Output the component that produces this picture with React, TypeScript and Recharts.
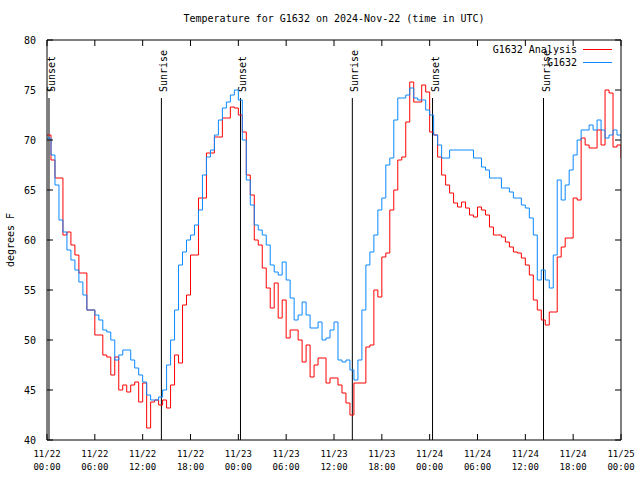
import React from "react";
import { Legend, Line, LineChart, ReferenceLine, XAxis, YAxis } from "recharts";

// half-hourly readings, 11/22 00:00 .. 11/25 00:00 (UTC)
const G1632_ANALYSIS = [
  70.5, 68, 66.2, 66.2, 60.5, 60.8, 59.5, 58.5, 56.7, 56.7, 53, 53,
  50.5, 50.5, 48.5, 48.3, 46.5, 48.3, 45, 45.5, 44.8, 45.5, 45.8, 43.8,
  45.7, 41.2, 43.8, 44, 43.5, 44, 43.2, 45.5, 48.5, 47.7, 53.5, 54.5,
  58.5, 58.5, 64.2, 64.2, 68.7, 68.7, 70.3, 70.3, 72.2, 72.2, 73.3, 73.2,
  72.5, 70.8, 66.5, 64.5, 60, 59.5, 57.2, 55.2, 53.2, 55.7, 52.2, 54,
  50.2, 51, 51, 50, 47.8, 49.5, 46.3, 47.5, 48.2, 48.2, 45.7, 46.2,
  46.2, 45.5, 44.7, 43.7, 42.5, 45.7, 45.7, 45.7, 49.3, 49.5, 55, 54.3,
  58.3, 58.7, 63, 65, 68, 68.3, 71.8, 75.8, 73.8, 73.8, 75.5, 74.8,
  70.8, 70.5, 68.3, 66.5, 65.5, 64.7, 63.7, 63.3, 63.8, 63.2, 62.5, 62.3,
  63.3, 63, 62.5, 61.3, 60.5, 60.5, 60.3, 59.8, 59.3, 58.8, 58.7, 58.2,
  57.5, 56.5, 54, 53, 52, 51.5, 52.8, 52.8, 58.3, 59.3, 60.2, 60.2,
  64.2, 64, 70.2, 69.5, 69.2, 69.2, 71, 69.5, 75, 74.7, 69.3, 69.5,
  68.2,
];

const G1632_OBS = [
  70.2, 68.5, 65.5, 62, 60.8, 59, 58, 57, 55.8, 54.5, 53, 53,
  52.5, 52, 51, 50.8, 50, 48, 48.5, 49, 49, 48, 47.2, 46.5,
  45.8, 44.5, 44, 44, 44.3, 45, 47.5, 50, 53, 57.5, 58.8, 60,
  60.5, 61.5, 63, 66.5, 68.3, 69, 70.5, 72, 73.2, 73.8, 74.5, 75,
  74, 70, 66, 63.5, 61.5, 61, 60.5, 59.5, 57.5, 56.8, 56.5, 57.8,
  56, 54.2, 52, 52.5, 53.8, 52.5, 51.2, 51.2, 51.8, 50, 50.2, 51,
  51.8, 48, 47.8, 48, 47, 46, 48, 53, 57.5, 58.8, 60.5, 63,
  64.2, 67.5, 68.2, 72, 74.2, 74.2, 74.5, 75.2, 74.2, 74, 74, 73,
  72.5, 70.5, 69.5, 68.2, 68.2, 69, 69, 69, 69, 69, 69, 68.2,
  68.2, 67.3, 67, 66.2, 66.2, 66.2, 65.2, 65.2, 64.8, 64.2, 64.2, 63.5,
  63.2, 62.2, 60.5, 56, 57, 56, 55.2, 58.5, 66, 64, 65.5, 67,
  68.5, 70, 71, 71, 71.5, 71, 72, 71, 70.2, 70.5, 71, 70.5,
  70.2,
];

const TICK_HOURS = [0, 6, 12, 18, 24, 30, 36, 42, 48, 54, 60, 66, 72];
const TICK_DATES = ["11/22", "11/22", "11/22", "11/22", "11/23", "11/23", "11/23", "11/23", "11/24", "11/24", "11/24", "11/24", "11/25"];
const TICK_TIMES = ["00:00", "06:00", "12:00", "18:00", "00:00", "06:00", "12:00", "18:00", "00:00", "06:00", "12:00", "18:00", "00:00"];
const Y_TICKS = [40, 45, 50, 55, 60, 65, 70, 75, 80];

const SUN_HOURS = [0.25, 14.35, 24.27, 38.3, 48.36, 62.28];
const SUN_LABELS = ["Sunset", "Sunrise", "Sunset", "Sunrise", "Sunset", "Sunrise"];
const SUN_LINE_TOP = 74.2;

const LEGEND_ORDER = ["G1632 Analysis", "G1632"];

const data = G1632_OBS.map((v, i) => ({
  hour: i * 0.5,
  analysis: G1632_ANALYSIS[i],
  obs: v,
}));

const FONT = "'DejaVu Sans Mono', monospace";
const TICK_LEN = 6;

function BottomTick({ x, y, payload }: any) {
  const i = TICK_HOURS.indexOf(payload.value);
  return (
    <g>
      <line x1={x} y1={y} x2={x} y2={y - TICK_LEN} stroke="#000" />
      <text x={x} y={y + 17} textAnchor="middle" fontFamily={FONT} fontSize={9} fill="#000">
        {TICK_DATES[i]}
      </text>
      <text x={x} y={y + 30} textAnchor="middle" fontFamily={FONT} fontSize={9} fill="#000">
        {TICK_TIMES[i]}
      </text>
    </g>
  );
}

function TopTick({ x, y }: any) {
  return <line x1={x} y1={y} x2={x} y2={y + TICK_LEN} stroke="#000" />;
}

function LeftTick({ x, y, payload }: any) {
  return (
    <g>
      <line x1={x} y1={y} x2={x + TICK_LEN} y2={y} stroke="#000" />
      <text x={x - 11} y={y + 3.5} textAnchor="end" fontFamily={FONT} fontSize={10} fill="#000">
        {payload.value}
      </text>
    </g>
  );
}

function RightTick({ x, y }: any) {
  return <line x1={x} y1={y} x2={x - TICK_LEN} y2={y} stroke="#000" />;
}

function sunLabel(text: string) {
  return (props: any) => {
    const vb = props.viewBox || {};
    const tx = vb.x + 6;
    const ty = vb.y - 6;
    return (
      <text
        x={tx}
        y={ty}
        transform={`rotate(-90 ${tx} ${ty})`}
        fontFamily={FONT}
        fontSize={10}
        fill="#000"
      >
        {text}
      </text>
    );
  };
}

function YLabel(props: any) {
  const vb = props.viewBox || {};
  const cx = 14;
  const cy = vb.y + vb.height / 2;
  return (
    <text
      x={cx}
      y={cy}
      transform={`rotate(-90 ${cx} ${cy})`}
      textAnchor="middle"
      fontFamily={FONT}
      fontSize={10}
      fill="#000"
    >
      degrees F
    </text>
  );
}

function LegendBox({ payload }: any) {
  const items = (payload || [])
    .filter((p: any) => LEGEND_ORDER.includes(p.value))
    .sort((a: any, b: any) => LEGEND_ORDER.indexOf(a.value) - LEGEND_ORDER.indexOf(b.value));
  return (
    <div style={{ fontFamily: FONT, fontSize: 10, lineHeight: "13px" }}>
      {items.map((p: any) => (
        <div key={p.value} style={{ display: "flex", justifyContent: "flex-end", alignItems: "center" }}>
          <span>{p.value}</span>
          <span style={{ display: "inline-block", width: 29, marginLeft: 6, borderTop: `1px solid ${p.color}` }} />
        </div>
      ))}
    </div>
  );
}

export default function App() {
  return (
    <div style={{ position: "absolute", left: 0, top: 0, width: 640, height: 480, background: "#fff" }}>
      <div
        style={{
          position: "absolute",
          top: 13,
          left: 47,
          width: 574,
          textAlign: "center",
          fontFamily: FONT,
          fontSize: 10,
        }}
      >
        Temperature for G1632 on 2024-Nov-22 (time in UTC)
      </div>
      <LineChart width={640} height={480} data={data} margin={{ top: 0, right: 0, bottom: 0, left: 0 }}>
        <XAxis
          xAxisId="bottom"
          dataKey="hour"
          type="number"
          domain={[0, 72]}
          ticks={TICK_HOURS}
          interval={0}
          height={40}
          tickSize={0}
          tickMargin={0}
          tick={<BottomTick />}
          axisLine={{ stroke: "#000" }}
          allowDataOverflow
        />
        <XAxis
          xAxisId="top"
          orientation="top"
          dataKey="hour"
          type="number"
          domain={[0, 72]}
          ticks={TICK_HOURS}
          interval={0}
          height={40}
          tickSize={0}
          tickMargin={0}
          tick={<TopTick />}
          axisLine={{ stroke: "#000" }}
          allowDataOverflow
        />
        <YAxis
          yAxisId="left"
          type="number"
          domain={[40, 80]}
          ticks={Y_TICKS}
          interval={0}
          width={47}
          tickSize={0}
          tickMargin={0}
          tick={<LeftTick />}
          axisLine={{ stroke: "#000" }}
          label={<YLabel />}
          allowDataOverflow
        />
        <YAxis
          yAxisId="right"
          orientation="right"
          type="number"
          domain={[40, 80]}
          ticks={Y_TICKS}
          interval={0}
          width={19}
          tickSize={0}
          tickMargin={0}
          tick={<RightTick />}
          axisLine={{ stroke: "#000" }}
          allowDataOverflow
        />
        {SUN_HOURS.map((h, i) => (
          <ReferenceLine
            key={i}
            xAxisId="bottom"
            yAxisId="left"
            segment={[
              { x: h, y: 40 },
              { x: h, y: SUN_LINE_TOP },
            ]}
            stroke="#000"
            strokeWidth={1}
            label={sunLabel(SUN_LABELS[i])}
          />
        ))}
        <Line
          xAxisId="top"
          yAxisId="right"
          dataKey="obs"
          stroke="none"
          dot={false}
          legendType="none"
          isAnimationActive={false}
        />
        <Line
          xAxisId="bottom"
          yAxisId="left"
          type="stepAfter"
          dataKey="analysis"
          name="G1632 Analysis"
          stroke="#ff0000"
          strokeWidth={1}
          dot={false}
          isAnimationActive={false}
        />
        <Line
          xAxisId="bottom"
          yAxisId="left"
          type="stepAfter"
          dataKey="obs"
          name="G1632"
          stroke="#0a88ff"
          strokeWidth={1}
          dot={false}
          isAnimationActive={false}
        />
        <Legend
          layout="vertical"
          align="center"
          verticalAlign="middle"
          content={<LegendBox />}
          wrapperStyle={{ top: 43, left: 440, width: 172, height: 28 }}
        />
      </LineChart>
    </div>
  );
}
